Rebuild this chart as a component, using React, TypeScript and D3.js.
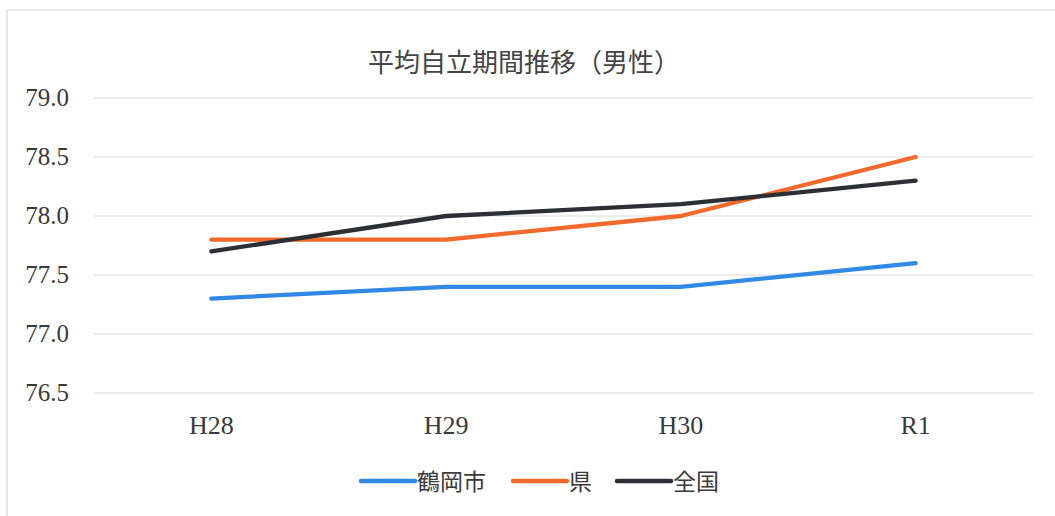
import React from "react";
import * as d3 from "d3";

const categories = ["H28", "H29", "H30", "R1"];
const seriesNames = ["鶴岡市", "県", "全国"];
const tsuruoka = [77.3, 77.4, 77.4, 77.6];
const ken = [77.8, 77.8, 78.0, 78.5];
const zenkoku = [77.7, 78.0, 78.1, 78.3];
const yTicks = [76.5, 77.0, 77.5, 78.0, 78.5, 79.0];
const colors = ["#3089e4", "#f26a2b", "#2c3034"];

const W = 1055, H = 516;
const left = 94, right = 1033, top = 98, bottom = 393;
const serif = "Liberation Serif, DejaVu Serif, Noto Sans CJK JP, serif";

export default function App() {
  const x = d3.scaleBand<string>().domain(categories).range([left, right]);
  const y = d3.scaleLinear().domain([76.5, 79.0]).range([bottom, top]);
  const line = d3
    .line<number>()
    .x((_, i) => (x(categories[i]) as number) + x.bandwidth() / 2)
    .y((d) => y(d));
  const data = [tsuruoka, ken, zenkoku];
  const legendItems = [
    { x: 361, w: 54, label: seriesNames[0] },
    { x: 513, w: 54, label: seriesNames[1] },
    { x: 617, w: 54, label: seriesNames[2] },
  ];
  return (
    <div style={{ position: "fixed", left: 0, top: 0 }}>
      <svg width={W} height={H} style={{ display: "block", background: "#fff" }}>
        <rect x={7} y={10} width={W} height={H} fill="#fff" stroke="#dcdcdc" strokeWidth={1.2} />
        <text x={524} y={72} textAnchor="middle" fontFamily={serif} fontSize={26} fill="#444">
          平均自立期間推移（男性）
        </text>
        {yTicks.map((t) => (
          <g key={t}>
            <line x1={left} x2={right} y1={y(t)} y2={y(t)} stroke="#d9d9d9" strokeWidth={1} />
            <text x={69} y={y(t) + 8} textAnchor="end" fontFamily={serif} fontSize={25} fill="#3a3a3a">
              {t.toFixed(1)}
            </text>
          </g>
        ))}
        {categories.map((c) => (
          <text key={c} x={(x(c) as number) + x.bandwidth() / 2} y={434} textAnchor="middle" fontFamily={serif} fontSize={26} fill="#3a3a3a">
            {c}
          </text>
        ))}
        {data.map((d, i) => (
          <path key={i} d={line(d) as string} fill="none" stroke={colors[i]} strokeWidth={4.3} strokeLinecap="round" strokeLinejoin="round" />
        ))}
        {legendItems.map((it, i) => (
          <g key={i}>
            <line x1={it.x} x2={it.x + it.w} y1={481} y2={481} stroke={colors[i]} strokeWidth={4.5} strokeLinecap="round" />
            <text x={it.x + it.w + 2} y={490} fontFamily={serif} fontSize={23} fill="#3a3a3a">
              {it.label}
            </text>
          </g>
        ))}
      </svg>
    </div>
  );
}
